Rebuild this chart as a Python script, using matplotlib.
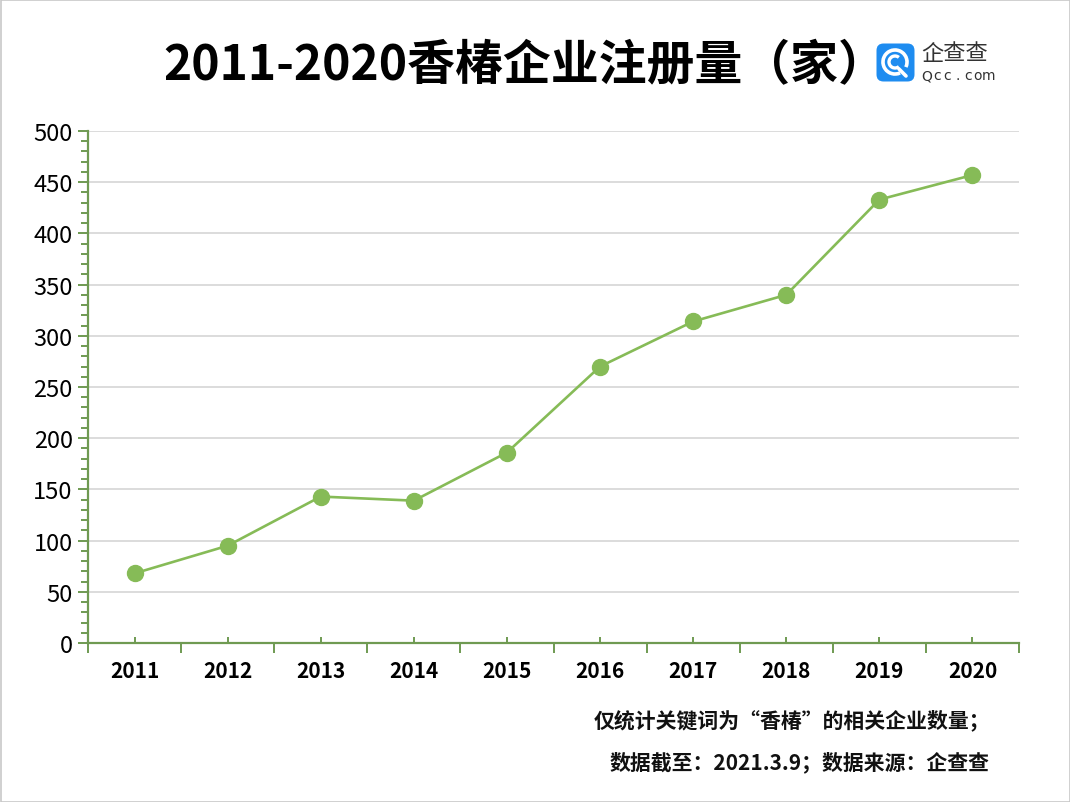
import matplotlib
matplotlib.use('Agg')
import matplotlib.pyplot as plt
from matplotlib.patches import FancyBboxPatch, Arc, Rectangle
from matplotlib.ticker import MultipleLocator

plt.rcParams['font.family'] = ['Noto Sans CJK SC', 'DejaVu Sans']

years = ['2011', '2012', '2013', '2014', '2015', '2016', '2017', '2018', '2019', '2020']
counts = [68, 95, 143, 139, 186, 270, 314, 340, 433, 457]
title = '2011-2020香椿企业注册量（家）'
note1 = '仅统计关键词为“香椿”的相关企业数量；'
note2 = '数据截至：2021.3.9；数据来源：企查查'
logo_cn = '企查查'
logo_en = 'Qcc.com'

W, H = 1070, 803
fig = plt.figure(figsize=(W / 100, H / 100), dpi=100)

ax = fig.add_axes([88 / W, 159 / H, 931 / W, 512 / H])
line_c = '#86bb57'
green = '#6f9a52'
xs = list(range(len(years)))
ax.plot(xs, counts, color=line_c, lw=1.9, marker='o', ms=11.5,
        mfc=line_c, mec=line_c, zorder=3, clip_on=False)
ax.set_xlim(-0.5, len(years) - 0.5)
ax.set_ylim(0, 500)
ax.yaxis.set_major_locator(MultipleLocator(50))
ax.yaxis.set_minor_locator(MultipleLocator(10))
ax.set_xticks(xs)
ax.set_xticklabels(years)
ax.set_xticks([i - 0.5 for i in range(len(years) + 1)], minor=True)
ax.grid(axis='y', which='major', color='#d9d9d9', lw=1.3)
ax.set_axisbelow(True)
for s in ['top', 'right']:
    ax.spines[s].set_visible(False)
for s in ['left', 'bottom']:
    ax.spines[s].set_color(green)
    ax.spines[s].set_linewidth(1.6)
ax.tick_params(axis='y', which='major', direction='out', length=7, width=1.4,
               color=green, labelsize=17, pad=4)
ax.tick_params(axis='y', which='minor', direction='out', length=5, width=1.4, color=green)
ax.tick_params(axis='x', which='major', direction='in', length=4, width=1.4,
               color=green, labelsize=15, pad=12)
ax.tick_params(axis='x', which='minor', direction='out', length=7, width=1.4, color=green)
for lab in ax.get_xticklabels():
    lab.set_fontweight('bold')
for lab in ax.get_yticklabels():
    lab.set_fontweight('medium')

fig.text(525 / W, 1 - 66 / H, title, ha='center', va='center',
         fontsize=34.5, fontweight='bold', color='black')

fig.text(990 / W, 1 - 720 / H, note1, ha='right', va='center',
         fontsize=15, fontweight='bold', color='#111111')
fig.text(990 / W, 1 - 762 / H, note2, ha='right', va='center',
         fontsize=15, fontweight='bold', color='#111111')

# logo
lax = fig.add_axes([876 / W, 1 - 83 / H, 39 / W, 39 / H])
lax.set_xlim(0, 39)
lax.set_ylim(0, 39)
lax.axis('off')
lax.add_patch(FancyBboxPatch((0.5, 0.5), 38, 38, boxstyle='round,pad=0,rounding_size=7',
                             fc='#1e8cf0', ec='none'))
lax.add_patch(Arc((19, 20), 24, 24, theta1=-25, theta2=295, color='white', lw=2.6))
lax.add_patch(Arc((19, 20), 12, 12, theta1=50, theta2=310, color='white', lw=2.4))
lax.plot([23, 30], [13, 6], color='white', lw=2.6, solid_capstyle='round')

fig.text(921 / W, 1 - 54 / H, logo_cn, ha='left', va='center', fontsize=16, color='#333333')
for i, ch in enumerate(logo_en):
    fig.text((927 + i * 10.2) / W, 1 - 76 / H, ch, ha='center', va='center',
             fontsize=10, color='#333333', family='DejaVu Sans')

fig.add_artist(Rectangle((0.5 / W, 0.5 / H), 1 - 1 / W, 1 - 1 / H, transform=fig.transFigure,
                         fill=False, ec='#c8c8c8', lw=1.2))

fig.savefig('out.png', dpi=100)
